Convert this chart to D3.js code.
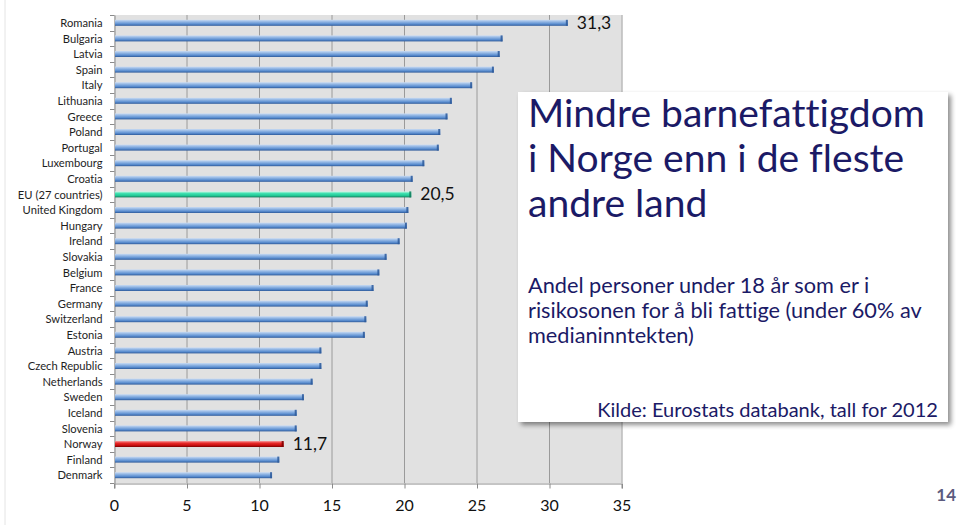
<!DOCTYPE html>
<html><head><meta charset="utf-8">
<script src="https://cdn.jsdelivr.net/npm/d3@7"></script>
<style>
html,body{margin:0;padding:0;background:#fff;}
svg{display:block;}
text{font-variant-ligatures:none;font-feature-settings:"liga" 0,"dlig" 0;}
</style></head>
<body>
<svg id="c" width="959" height="525"></svg>
<script>
const categories = ["Romania","Bulgaria","Latvia","Spain","Italy","Lithuania","Greece","Poland","Portugal","Luxembourg","Croatia","EU (27 countries)","United Kingdom","Hungary","Ireland","Slovakia","Belgium","France","Germany","Switzerland","Estonia","Austria","Czech Republic","Netherlands","Sweden","Iceland","Slovenia","Norway","Finland","Denmark"];
const values = [31.3,26.8,26.6,26.2,24.7,23.3,23.0,22.5,22.4,21.4,20.6,20.5,20.3,20.2,19.7,18.8,18.3,17.9,17.5,17.4,17.3,14.3,14.3,13.7,13.1,12.6,12.6,11.7,11.4,10.9];
const xTicks = [0,5,10,15,20,25,30,35];
const labeledCategories = ["Romania","EU (27 countries)","Norway"];
const titleLines = ["Mindre barnefattigdom","i Norge enn i de fleste","andre land"];
const subtitleLines = ["Andel personer under 18 år som er i","risikosonen for å bli fattige (under 60% av","medianinntekten)"];
const sourceText = "Kilde: Eurostats databank, tall for 2012";
const pageNumber = "14";

const data = categories.map((c,i)=>({cat:c,val:values[i]}));
const svg = d3.select("#c");
const defs = svg.append("defs");

function grad(id, stops){
  const g = defs.append("linearGradient").attr("id",id).attr("x1",0).attr("y1",0).attr("x2",0).attr("y2",1);
  stops.forEach(s=>g.append("stop").attr("offset",s[0]).attr("stop-color",s[1]));
}
grad("gBlue",[[0,"#c9dbf3"],[0.35,"#8fb4e3"],[0.7,"#5b8ed0"],[1,"#2e5a9a"]]);
grad("gGreen",[[0,"#c8f7e6"],[0.35,"#3fe0b0"],[0.7,"#22c895"],[1,"#137a5c"]]);
grad("gRed",[[0,"#f6a0a0"],[0.35,"#e82a2a"],[0.7,"#cc1010"],[1,"#7a0000"]]);
const shadowF = defs.append("filter").attr("id","sh").attr("x","-10%").attr("y","-10%").attr("width","130%").attr("height","130%");
shadowF.append("feGaussianBlur").attr("in","SourceAlpha").attr("stdDeviation",2.5);
shadowF.append("feOffset").attr("dx",3).attr("dy",3).attr("result","o");
const fct = shadowF.append("feComponentTransfer"); fct.append("feFuncA").attr("type","linear").attr("slope",0.45);
const mg = shadowF.append("feMerge"); mg.append("feMergeNode"); mg.append("feMergeNode").attr("in","SourceGraphic");

// slide left border line
svg.append("line").attr("x1",5).attr("x2",5).attr("y1",0).attr("y2",525).attr("stroke","#e4e4e4").attr("stroke-width",1);

const x = d3.scaleLinear().domain([0,35]).range([114,621.5]);
const y = d3.scaleBand().domain(categories).range([15,483]);

// plot background
svg.append("rect").attr("x",x(0)).attr("y",15).attr("width",x(35)-x(0)).attr("height",468).attr("fill","#e1e1e1");

// gridlines
svg.append("g").selectAll("line").data(xTicks.slice(1)).join("line")
  .attr("x1",d=>x(d)+0.5).attr("x2",d=>x(d)+0.5).attr("y1",15).attr("y2",483)
  .attr("stroke","#9a9a9a").attr("stroke-width",1);

// x axis
const xAxis = svg.append("g").attr("transform","translate(0,483.5)")
  .call(d3.axisBottom(x).tickValues(xTicks).tickSize(5).tickPadding(11).tickFormat(d3.format("d")));
xAxis.select(".domain").attr("stroke","#8a8a8a");
xAxis.selectAll(".tick line").attr("stroke","#8a8a8a").attr("transform","translate(0.5,0)");
xAxis.selectAll("text").attr("font-family","Lato, 'Open Sans', sans-serif").attr("font-size",16).attr("fill","#111");

// y axis
const yAxis = svg.append("g").attr("transform","translate(114.5,0)")
  .call(d3.axisLeft(y).tickSize(0).tickPadding(12));
yAxis.select(".domain").attr("stroke","#8a8a8a");
yAxis.selectAll("text").attr("font-family","Lato, 'Open Sans', sans-serif").attr("font-size",11.2).attr("fill","#1e1e1e").attr("dy","0.38em");
// y tick marks at band boundaries
const bounds = categories.map(c=>y(c)).concat([483]);
svg.append("g").selectAll("line").data(bounds).join("line")
  .attr("x1",110).attr("x2",114.5).attr("y1",d=>Math.round(d)+0.5).attr("y2",d=>Math.round(d)+0.5)
  .attr("stroke","#8a8a8a");

// bars
const barH = 6;
function fillFor(c){ return c==="Norway"?"url(#gRed)":(c==="EU (27 countries)"?"url(#gGreen)":"url(#gBlue)"); }
function capFor(c){ return c==="Norway"?"#7a0000":(c==="EU (27 countries)"?"#137a5c":"#2e5a9a"); }
const bars = svg.append("g").selectAll("g").data(data).join("g");
bars.append("rect").attr("x",x(0)+1).attr("y",d=>y(d.cat)+y.bandwidth()/2-barH/2)
  .attr("width",d=>x(d.val)-x(0)-1).attr("height",barH).attr("fill",d=>fillFor(d.cat));
bars.append("rect").attr("x",d=>x(d.val)-2).attr("y",d=>y(d.cat)+y.bandwidth()/2-barH/2)
  .attr("width",2).attr("height",barH).attr("fill",d=>capFor(d.cat)).attr("opacity",0.85);

// value labels
svg.append("g").selectAll("text").data(data.filter(d=>labeledCategories.includes(d.cat))).join("text")
  .attr("x",d=>x(d.val)+9).attr("y",d=>y(d.cat)+y.bandwidth()/2+6)
  .attr("font-family","Lato, 'Open Sans', sans-serif").attr("font-size",17.5).attr("fill","#111")
  .text(d=>d3.format(".1f")(d.val).replace(".",","));

// text box
svg.append("rect").attr("x",518).attr("y",92).attr("width",430).attr("height",330).attr("fill","#fff").attr("filter","url(#sh)");
const navy = "#1b1a66";
const ff = "Lato, 'Open Sans', sans-serif";
const t = svg.append("g");
titleLines.forEach((l,i)=>{
  t.append("text").attr("x",528).attr("y",127+i*45).attr("font-family",ff).attr("font-size",36).attr("fill",navy).text(l);
});
const tt = t.selectAll("text");
{ const w = tt.nodes()[0].getComputedTextLength(); tt.attr("font-size",36*397/w); }
const s = svg.append("g");
subtitleLines.forEach((l,i)=>{
  s.append("text").attr("x",528).attr("y",293+i*25).attr("font-family",ff).attr("font-size",19).attr("fill",navy).text(l);
});
{ const n = s.selectAll("text").nodes()[1]; const w = n.getComputedTextLength(); s.selectAll("text").attr("font-size",19*394/w); }
const src = svg.append("text").attr("x",938).attr("y",417).attr("text-anchor","end").attr("font-family",ff).attr("font-size",19).attr("fill",navy).text(sourceText);
{ const w = src.node().getComputedTextLength(); src.attr("font-size",19*341/w); }

svg.append("text").attr("x",956).attr("y",501).attr("text-anchor","end").attr("font-family",ff)
  .attr("font-weight","bold").attr("font-size",17).attr("fill","#5b5b7e").text(pageNumber);
</script>
</body></html>
